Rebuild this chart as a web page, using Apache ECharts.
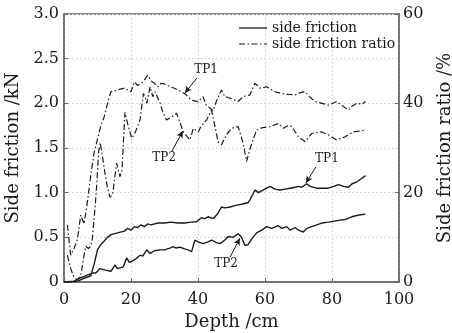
<!DOCTYPE html>
<html><head><meta charset="utf-8">
<script src="https://cdn.jsdelivr.net/npm/echarts@6/dist/echarts.min.js"></script>
<style>html,body{margin:0;padding:0;background:#fff}#c{width:452px;height:333px}</style>
</head><body><div id="c"></div>
<script>
// ---- data ----
const frictionTP1Depth = [0,2,4,6,8,9,10,11,12,13,14,16,18,19,20,21,22,23,24,25,26,28,30,32,34,36,38,39.6,41,42,43,44.6,46,47,48,49.6,51.5,53,55,55.5,57,58,59,60.5,61.5,63,64.5,66,67.5,69,70,71,72.4,73.5,75.4,77,78.9,80.5,81.9,83.5,84.9,86,87.4,88.5,90];
const frictionTP1 = [0,0,0.01,0.04,0.07,0.2,0.36,0.42,0.46,0.5,0.53,0.55,0.57,0.6,0.58,0.62,0.61,0.64,0.62,0.65,0.64,0.66,0.66,0.67,0.66,0.66,0.67,0.675,0.72,0.71,0.73,0.71,0.77,0.84,0.83,0.84,0.86,0.87,0.89,0.92,1.03,1.0,1.02,1.05,1.07,1.04,1.03,1.04,1.05,1.06,1.07,1.06,1.1,1.07,1.05,1.05,1.05,1.07,1.09,1.07,1.06,1.1,1.12,1.15,1.19];

const frictionTP2Depth = [0,3,5,6,7,8.7,9.5,10.7,12.7,14,15.2,16,17.7,18.7,19.5,20.2,21.5,22.7,23.5,24.7,25.7,27,28.7,30,31.6,32.6,33.5,34.6,36,37,38.1,39.1,40,41.6,43,44.1,45.5,46.6,48,49,50.5,52,53,54,55,56,57.5,59,60.5,62,64,65,66.5,67.5,69,70,71.4,72.5,73.9,75.5,76.9,79,81.9,84,85.9,88,90];
const frictionTP2 = [0,0.01,0.05,0.06,0.08,0.1,0.1,0.15,0.13,0.12,0.19,0.15,0.17,0.27,0.22,0.23,0.26,0.3,0.29,0.36,0.32,0.35,0.36,0.36,0.38,0.395,0.38,0.39,0.37,0.36,0.34,0.47,0.45,0.43,0.45,0.47,0.44,0.43,0.47,0.51,0.5,0.54,0.5,0.41,0.42,0.48,0.55,0.58,0.62,0.6,0.63,0.6,0.62,0.58,0.61,0.58,0.56,0.6,0.62,0.64,0.66,0.67,0.69,0.7,0.73,0.75,0.76];

const ratioTP1Depth = [1,2,3,4,5,6,7,8,9,10,11,12,13,14,16,18,20,21,22,23,24,25,26,27,28,29,30,31,32,34,36,37,38,40,41.5,42.5,43.5,44.5,45.5,47,48,49,50,52,53.5,55.5,57,58.5,60.5,61,63,65,67,69,70.5,72,73.5,75,77,79,81.4,83,84.9,86,87.4,89,90];
const ratioTP1 = [12.8,6,7.5,9.5,15,13,18,24,29,32,35,37,40,42.6,43,43.4,42.6,44.8,44,44.5,45.2,46.3,45,44.5,43.7,44.5,44.3,44,43.7,43,42.2,41.5,40.7,40.4,41.5,39.5,39,38.3,40.5,43,41.5,41.3,41,40.4,41.5,41.9,44.5,43.4,43.7,43.5,42.6,42.2,42,41.9,42.4,42.6,41.3,40.4,40,39.6,40.4,39.5,38.5,39.4,40,39.8,40.4];

const ratioTP2Depth = [1,2,3,4,5,6,6.5,7.3,8,8.5,9.3,9.8,10.3,10.8,11.5,12.3,13,13.7,14.5,15.7,16.7,17.3,18.2,19.2,20.2,21,22.7,23.7,24.2,24.7,25.7,26.5,27.2,28.7,29.6,30.6,32.2,33.6,35.6,37.6,38.6,40.1,41,42.6,44,45,46,47,48.5,50,52,53.5,54.5,56,57.5,59,61.5,64,65.5,67,68,70,72,74,77,79,81.4,83.9,86.4,90];
const ratioTP2 = [6,3,1,0.5,1.5,6,8,7.5,8,10,17,22,29,31.2,28,24,21,19,19.5,26.6,23.6,25,38,34.8,32.2,33,36.3,42.2,41.5,40,43.7,41.5,42.6,40,37.8,36.3,37,37.8,33.6,31.8,34.4,33.6,35,36.3,38.5,35,31.4,30.7,33,34.4,34.8,31,27,31,34,34.5,34.8,35.5,34.4,35.1,34.8,32.5,31.4,33.3,33.6,32.9,31.8,32.5,33.6,34];

const xTicks = [0,20,40,60,80,100];
const leftTicks = [0,0.5,1.0,1.5,2.0,2.5,3.0];
const rightTicks = [0,20,40,60];

const legendNames = ['side friction','side friction ratio'];
// annotations in data units (depth, value of the series' axis)
const annoRatioTP1 = {text:'TP1', at:[42.4,47.5], from:[39.7,45.7], to:[36.1,42.3]};
const annoRatioTP2 = {text:'TP2', at:[29.9,27.8], from:[32.2,29.3], to:[35.5,33.8]};
const annoFricTP1 = {text:'TP1', at:[78.5,1.377], from:[75.2,1.288], to:[72.2,1.109]};
const annoFricTP2 = {text:'TP2', at:[48.4,0.20], from:[49.6,0.28], to:[52.5,0.49]};

// ---- chart ----
const FONT = 'DejaVu Serif';
const INK = '#1a1a1a';
const dashDot = [6,2.5,1.5,2.5];
const pairs = (xs, ys) => xs.map((x,i)=>[x, ys[i]]);
const arrowLine = a => ({silent:true, symbol:['none','arrow'], symbolSize:[5,7], label:{show:false},
  lineStyle:{color:INK, width:1, type:'solid'}, data:[[{coord:a.from},{coord:a.to}]]});
const textPoint = a => ({silent:true, symbol:'circle', symbolSize:1, itemStyle:{color:'rgba(0,0,0,0)'},
  label:{show:true, position:'inside', formatter:a.text, color:INK, fontFamily:FONT, fontSize:12},
  data:[{coord:a.at}]});

const solidIcon = 'path://M0,0h28v1.3h-28z';
const dashDotIcon = 'path://M0,0h6v1.2h-6z M8.5,0h1.5v1.2h-1.5z M12.5,0h6v1.2h-6z M21,0h1.5v1.2h-1.5z M25,0h3v1.2h-3z';

const axisCommon = {
  axisLine:{show:true, lineStyle:{color:'#666', width:1.5}},
  axisTick:{show:true, inside:true, length:4, lineStyle:{color:'#666'}},
  nameTextStyle:{fontFamily:FONT, fontSize:18, color:INK},
};

const lineSeries = (name, xs, ys, yIdx, dashed, anno) => ({
  name, type:'line', yAxisIndex:yIdx, data:pairs(xs, ys), symbol:'none', showSymbol:false,
  lineStyle:{color:INK, width: dashed ? 1.2 : 1.4, type: dashed ? dashDot : 'solid'},
  itemStyle:{color:INK}, z:3,
  markLine: arrowLine(anno), markPoint: textPoint(anno)
});

const chart = echarts.init(document.getElementById('c'), null, {renderer:'canvas'});
chart.setOption({
  animation:false,
  backgroundColor:'#fff',
  grid:{left:64, right:53, top:14, bottom:51, outerBoundsMode:'none', containLabel:false,
    show:true, borderColor:'#666', borderWidth:1.5, backgroundColor:'transparent'},
  legend:{orient:'vertical', left:239, top:20, itemWidth:28, itemHeight:1.3, itemGap:0, padding:0,
    data:[{name:legendNames[0], icon:solidIcon}, {name:legendNames[1], icon:dashDotIcon}],
    textStyle:{fontFamily:FONT, fontSize:14, color:INK, lineHeight:16}},
  xAxis:Object.assign({}, axisCommon, {type:'value', min:xTicks[0], max:xTicks[xTicks.length-1], interval:xTicks[1]-xTicks[0],
    name:'Depth /cm', nameLocation:'middle', nameGap:29,
    axisLabel:{fontFamily:FONT, fontSize:16, color:INK, margin:10},
    splitLine:{show:true, lineStyle:{color:'#d8d8d8', type:[2,2], width:1}}}),
  yAxis:[
    Object.assign({}, axisCommon, {type:'value', position:'left', min:leftTicks[0], max:leftTicks[leftTicks.length-1], interval:leftTicks[1]-leftTicks[0],
      name:'Side friction /kN', nameLocation:'middle', nameGap:35, nameRotate:90,
      axisLabel:{fontFamily:FONT, fontSize:16, color:INK, margin:5, formatter:v => v===0 ? '0' : v.toFixed(1)},
      splitLine:{show:true, lineStyle:{color:'#d8d8d8', type:[2,2], width:1}}}),
    Object.assign({}, axisCommon, {type:'value', position:'right', min:rightTicks[0], max:rightTicks[rightTicks.length-1], interval:rightTicks[1]-rightTicks[0],
      name:'Side friction ratio /%', nameLocation:'middle', nameGap:37, nameRotate:90,
      axisLabel:{fontFamily:FONT, fontSize:16, color:INK, margin:4},
      splitLine:{show:false}})
  ],
  series:[
    lineSeries(legendNames[0], frictionTP1Depth, frictionTP1, 0, false, annoFricTP1),
    lineSeries(legendNames[0], frictionTP2Depth, frictionTP2, 0, false, annoFricTP2),
    lineSeries(legendNames[1], ratioTP1Depth, ratioTP1, 1, true, annoRatioTP1),
    lineSeries(legendNames[1], ratioTP2Depth, ratioTP2, 1, true, annoRatioTP2)
  ]
});
</script></body></html>
